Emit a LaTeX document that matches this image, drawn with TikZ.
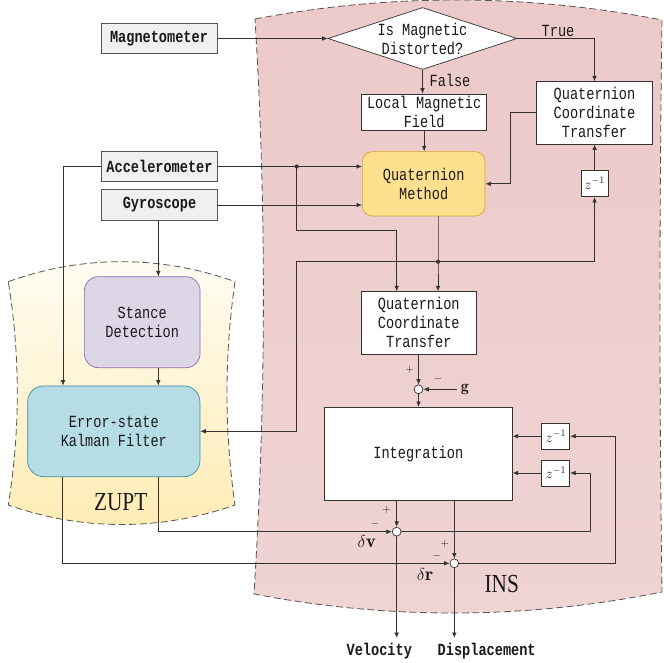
\documentclass[tikz,border=0pt]{standalone}
\usepackage{fontspec}
\newfontfamily\simfont[FakeStretch=0.8]{Liberation Mono}
\newfontfamily\bigserif[FakeStretch=0.82]{Liberation Serif}
\usetikzlibrary{arrows.meta,shapes.geometric}
\definecolor{ln}{HTML}{333333}
\definecolor{txt}{HTML}{1A1A1A}
\definecolor{dashc}{HTML}{555555}
\definecolor{sensorfill}{HTML}{F0F0F0}
\definecolor{qmfill}{HTML}{FFE08F}
\definecolor{qmdraw}{HTML}{D4A52C}
\definecolor{sdfill}{HTML}{DDD6E6}
\definecolor{sddraw}{HTML}{8E6CAE}
\definecolor{kffill}{HTML}{B6DCE6}
\definecolor{kfdraw}{HTML}{3E8C9E}
\definecolor{insTop}{HTML}{ECCAC9}
\definecolor{insMid}{HTML}{DEA6A4}
\definecolor{insBot}{HTML}{EFD4D3}
\definecolor{zTop}{HTML}{FFFCF3}
\definecolor{zMid}{HTML}{FFDF88}
\definecolor{zBot}{HTML}{FFECB4}
\begin{document}
\begin{tikzpicture}[x=1pt,y=-1pt,
  font={\simfont\fontsize{17pt}{19pt}\selectfont},
  box/.style={draw=ln, line width=0.7pt, fill=white, inner sep=0pt, align=center, text=txt},
  sensor/.style={box, draw=dashc, fill=sensorfill, font={\simfont\bfseries\fontsize{17pt}{19pt}\selectfont}, minimum width=116pt, minimum height=30.5pt},
  arr/.style={draw=ln, line width=0.7pt, -{Latex[length=5.5pt,width=4.6pt]}},
  sumc/.style={circle, draw=ln, fill=white, line width=0.7pt, minimum size=8.8pt, inner sep=0pt},
  dotn/.style={circle, fill=ln, minimum size=4.2pt, inner sep=0pt},
  zbox/.style={box, minimum width=28pt, minimum height=26pt, font={\fontsize{14pt}{14pt}\selectfont}},
  pm/.style={inner sep=0pt, text=txt, font={\fontsize{11pt}{11pt}\selectfont}},
  region/.style={draw=dashc, line width=0.8pt, dash pattern=on 7pt off 3.5pt},
  lbl/.style={inner sep=0pt, text=txt}
]
\useasboundingbox (0,0) rectangle (664,663);

% regions
\path[region, top color=insTop, middle color=insMid, bottom color=insBot]
  (255,19) .. controls (390.7,-6.7) and (526.3,-6.3) .. (662,20)
  .. controls (659.3,210) and (659.3,402) .. (662,592)
  .. controls (526,619.3) and (390,620) .. (254,594)
  .. controls (266,402) and (266.7,210) .. cycle;
\path[region, top color=zTop, middle color=zMid, bottom color=zBot]
  (8.3,281.7) .. controls (82,255) and (161,255) .. (235,281.7)
  .. controls (224.3,356) and (224.3,430) .. (235,505)
  .. controls (161,531) and (82,531) .. (8.3,505)
  .. controls (20.3,430) and (20.3,356) .. cycle;
\node[lbl, font={\bigserif\fontsize{26pt}{26pt}\selectfont}] (zupt) at (120.7,502) {ZUPT};
\node[lbl, font={\bigserif\fontsize{26pt}{26pt}\selectfont}] (ins) at (501.7,584) {INS};

% nodes
\node[sensor] (mag) at (159,38.5) {Magnetometer};
\node[sensor] (acc) at (159.5,166.5) {Accelerometer};
\node[sensor] (gyr) at (159.5,205) {Gyroscope};

\node[diamond, draw=ln, line width=0.7pt, fill=white, inner sep=0pt, aspect=3.05,
      minimum width=189pt, minimum height=62pt] (dia) at (422.5,38.5) {};
\node[lbl, align=center] (diatext) at (dia.center) {Is Magnetic\\Distorted?};

\node[box, minimum width=125pt, minimum height=36.7pt] (lmf) at (424.2,112.3) {Local Magnetic\\Field};
\node[box, minimum width=115.6pt, minimum height=62.3pt] (qct1) at (594.5,112.8) {Quaternion\\Coordinate\\Transfer};
\node[zbox, minimum width=27.3pt, minimum height=26.7pt] (z1) at (594.6,183.3) {$z^{-1}$};
\node[box, draw=qmdraw, fill=qmfill, rounded corners=10pt, minimum width=122.7pt, minimum height=64.3pt] (qm) at (423.7,183.8) {Quaternion\\Method};
\node[box, minimum width=115.6pt, minimum height=62.3pt] (qct2) at (418.8,322.8) {Quaternion\\Coordinate\\Transfer};
\node[sumc] (s1) at (418.5,389.3) {};
\node[box, minimum width=188pt, minimum height=92.7pt] (int) at (418.3,453.7) {Integration};
\node[zbox] (z2) at (555.8,436.2) {$z^{-1}$};
\node[zbox] (z3) at (555.8,473) {$z^{-1}$};
\node[sumc] (sv) at (396.7,531.7) {};
\node[sumc] (sr) at (454.3,563.3) {};
\node[box, draw=sddraw, fill=sdfill, rounded corners=14pt, minimum width=115.7pt, minimum height=91pt] (sd) at (142.2,322.2) {Stance\\Detection};
\node[box, draw=kfdraw, fill=kffill, rounded corners=16pt, minimum width=172.3pt, minimum height=90.7pt] (kf) at (113.8,431.3) {Error-state\\Kalman Filter};

\node[lbl, anchor=west, inner sep=4pt, font={\fontsize{16pt}{16pt}\selectfont}] (g) at (456.7,389.3) {$\mathbf{g}$};
\node[lbl, font={\simfont\bfseries\fontsize{17pt}{19pt}\selectfont}] (vel) at (379.3,651) {Velocity};
\node[lbl, font={\simfont\bfseries\fontsize{17pt}{19pt}\selectfont}] (disp) at (486.7,651) {Displacement};

% labels
\node[lbl] (ltrue) at (558,31) {True};
\node[lbl] (lfalse) at (450,80) {False};
\node[pm] (p1) at (410,370) {$+$};
\node[pm] (m1) at (438,379) {$-$};
\node[pm] (p2) at (386.7,510) {$+$};
\node[pm] (m2) at (375,523.5) {$-$};
\node[pm] (p3) at (445,543.3) {$+$};
\node[pm] (m3) at (436.7,555.5) {$-$};
\node[lbl, font={\fontsize{19pt}{19pt}\selectfont}] (dv) at (366.7,541.7) {$\delta\mathbf{v}$};
\node[lbl, font={\fontsize{19pt}{19pt}\selectfont}] (dr) at (425,574.5) {$\delta\mathbf{r}$};

% coordinates
\coordinate (accdot) at (296.7,166.5);
\coordinate (b1) at (396.7,230.7);
\coordinate (j1) at (438,261.7);
\coordinate (b2) at (296.7,261.7);
\coordinate (b3) at (510,183.8);
\coordinate (b5) at (63,166.5);
\coordinate (xsd) at (158.3,300);
\coordinate (kv) at (158.3,531.7);
\coordinate (kr) at (62,563.3);
\coordinate (rv) at (590,531.7);
\coordinate (rr) at (615,563.3);
\coordinate (vend) at (396.7,638);
\coordinate (dend) at (454.3,638);

% connectors
\draw[arr] (mag.east) -- (dia.west);
\draw[arr] (dia.east) -| (qct1.north);
\draw[arr] (dia.south) -- (dia.south |- lmf.north);
\draw[arr] (lmf.south) -- (lmf.south |- qm.north);
\draw[arr] (qct1.west) -| (b3) -- (qm.east);
\draw[arr] (z1.north) -- (z1.north |- qct1.south);
\draw[arr] (acc.east) -- (acc.east -| qm.west);
\draw[arr] (gyr.east) -- (gyr.east -| qm.west);
\draw[arr] (accdot) |- (b1) -- (b1 |- qct2.north);
\draw[arr] (qm.south -| j1) -- (j1) -- (j1 |- qct2.north);
\draw[arr] (j1) -| (z1.south);
\draw[arr] (j1) -- (b2) |- (kf.east);
\draw[arr] (acc.west) -- (b5) -- (b5 |- kf.north);
\draw[arr] (gyr.south -| xsd) -- (sd.north -| xsd);
\draw[arr] (sd.south -| xsd) -- (kf.north -| xsd);
\draw[arr] (qct2.south -| s1) -- (s1.north);
\draw[arr] (g.west) -- (s1.east);
\draw[arr] (s1.south) -- (s1.south |- int.north);
\draw[arr] (z2.west) -- (z2.west -| int.east);
\draw[arr] (z3.west) -- (z3.west -| int.east);
\draw[arr] (int.south -| sv) -- (sv.north);
\draw[arr] (int.south -| sr) -- (sr.north);
\draw[arr] (sv.east) -- (rv) |- (z3.east);
\draw[arr] (sr.east) -- (rr) |- (z2.east);
\draw[arr] (kf.south -| kv) -- (kv) -- (sv.west);
\draw[arr] (kf.south -| kr) -- (kr) -- (sr.west);
\draw[arr] (sv.south) -- (vend);
\draw[arr] (sr.south) -- (dend);
\node[dotn] (dot1) at (accdot) {};
\node[dotn] (dot2) at (j1) {};
\end{tikzpicture}
\end{document}
